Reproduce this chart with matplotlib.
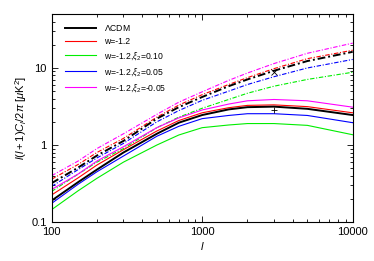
import matplotlib
matplotlib.use('Agg')
import matplotlib.pyplot as plt
from matplotlib.ticker import LogLocator, NullFormatter

plt.rcParams['font.family'] = ['Liberation Sans', 'DejaVu Sans']
plt.rcParams['mathtext.fontset'] = 'custom'
plt.rcParams['mathtext.rm'] = 'Liberation Sans'
plt.rcParams['mathtext.it'] = 'Liberation Sans:italic'

# multipoles
ell = [100, 150, 200, 300, 500, 700, 1000, 1500, 2000, 3000, 5000, 10000]

# solid curves
lcdm_s   = [0.19, 0.33, 0.48, 0.80, 1.40, 1.95, 2.45, 2.90, 3.10, 3.15, 2.95, 2.45]
w12_s    = [0.225, 0.375, 0.55, 0.87, 1.52, 2.08, 2.62, 3.05, 3.27, 3.32, 3.15, 2.62]
xi010_s  = [0.145, 0.255, 0.37, 0.60, 1.00, 1.35, 1.68, 1.82, 1.90, 1.90, 1.80, 1.36]
xi005_s  = [0.175, 0.31, 0.45, 0.72, 1.30, 1.75, 2.20, 2.42, 2.55, 2.55, 2.42, 1.95]
xim005_s = [0.265, 0.42, 0.62, 0.95, 1.68, 2.25, 2.85, 3.40, 3.75, 3.90, 3.75, 3.10]

# dash-dot curves
lcdm_d   = [0.32, 0.51, 0.73, 1.13, 2.20, 3.10, 4.20, 5.80, 7.10, 9.20, 12.3, 16.2]
w12_d    = [0.36, 0.56, 0.80, 1.22, 2.30, 3.30, 4.50, 6.10, 7.50, 9.80, 13.2, 17.0]
xi010_d  = [0.25, 0.42, 0.60, 0.90, 1.68, 2.30, 3.00, 3.90, 4.70, 5.80, 7.10, 8.80]
xi005_d  = [0.29, 0.48, 0.68, 1.05, 2.00, 2.80, 3.80, 5.00, 6.10, 7.70, 10.0, 12.9]
xim005_d = [0.40, 0.62, 0.90, 1.40, 2.50, 3.60, 4.90, 6.90, 8.60, 11.4, 15.5, 21.0]

# data points
pt_l = 3000
pt_s = 2.84
pt_d = 8.9

labels = ['$\\Lambda$CDM', 'w=-1.2', 'w=-1.2,$\\xi_2$=0.10',
          'w=-1.2,$\\xi_2$=0.05', 'w=-1.2,$\\xi_2$=-0.05']
colors = ['black', '#ff0000', '#00ee00', '#0000ff', '#ff00ff']
widths = [1.4, 0.8, 0.8, 0.8, 0.8]
solid = [lcdm_s, w12_s, xi010_s, xi005_s, xim005_s]
dashd = [lcdm_d, w12_d, xi010_d, xi005_d, xim005_d]

fig = plt.figure(figsize=(3.74, 2.61), dpi=100)
ax = fig.add_axes([0.138, 0.149, 0.805, 0.797])

# draw the coloured ones first so black sits on top
order = [1, 2, 3, 4, 0]
handles = {}
for i in order:
    h, = ax.plot(ell, solid[i], color=colors[i], lw=widths[i], label=labels[i])
    ax.plot(ell, dashd[i], color=colors[i], lw=widths[i],
            linestyle=(0, (4, 1.5, 1, 1.5)))
    handles[i] = h

ax.plot([pt_l], [pt_s], marker='+', color='black', ms=5, mew=0.6, ls='none')
ax.plot([pt_l], [pt_d], marker='x', color='black', ms=4, mew=0.6, ls='none')

ax.set_xscale('log')
ax.set_yscale('log')
ax.set_xlim(100, 10000)
ax.set_ylim(0.1, 50)
ax.set_xticks([100, 1000, 10000])
ax.set_xticklabels(['100', '1000', '10000'])
ax.set_yticks([0.1, 1, 10])
ax.set_yticklabels(['0.1', '1', '10'])
ax.xaxis.set_minor_locator(LogLocator(base=10, subs=range(2, 10)))
ax.yaxis.set_minor_locator(LogLocator(base=10, subs=range(2, 10)))
ax.xaxis.set_minor_formatter(NullFormatter())
ax.yaxis.set_minor_formatter(NullFormatter())
ax.tick_params(which='both', direction='in', top=True, right=True,
               labelsize=8, width=0.6)
ax.tick_params(which='major', length=4)
ax.tick_params(which='minor', length=2)
for s in ax.spines.values():
    s.set_linewidth(0.8)

ax.set_xlabel('$\\mathit{l}$', fontsize=8, labelpad=2)
ax.set_ylabel('$\\mathit{l(l+1)C_l/2\\pi}$ [$\\mu$K$^2$]', fontsize=8, labelpad=2)

leg = ax.legend([handles[i] for i in range(5)], labels, loc='upper left',
                frameon=False, fontsize=6.2, handlelength=3.6,
                labelspacing=0.45, borderaxespad=0.4, handletextpad=1.0,
                bbox_to_anchor=(0.02, 0.99))

fig.savefig('out.png', dpi=100)
